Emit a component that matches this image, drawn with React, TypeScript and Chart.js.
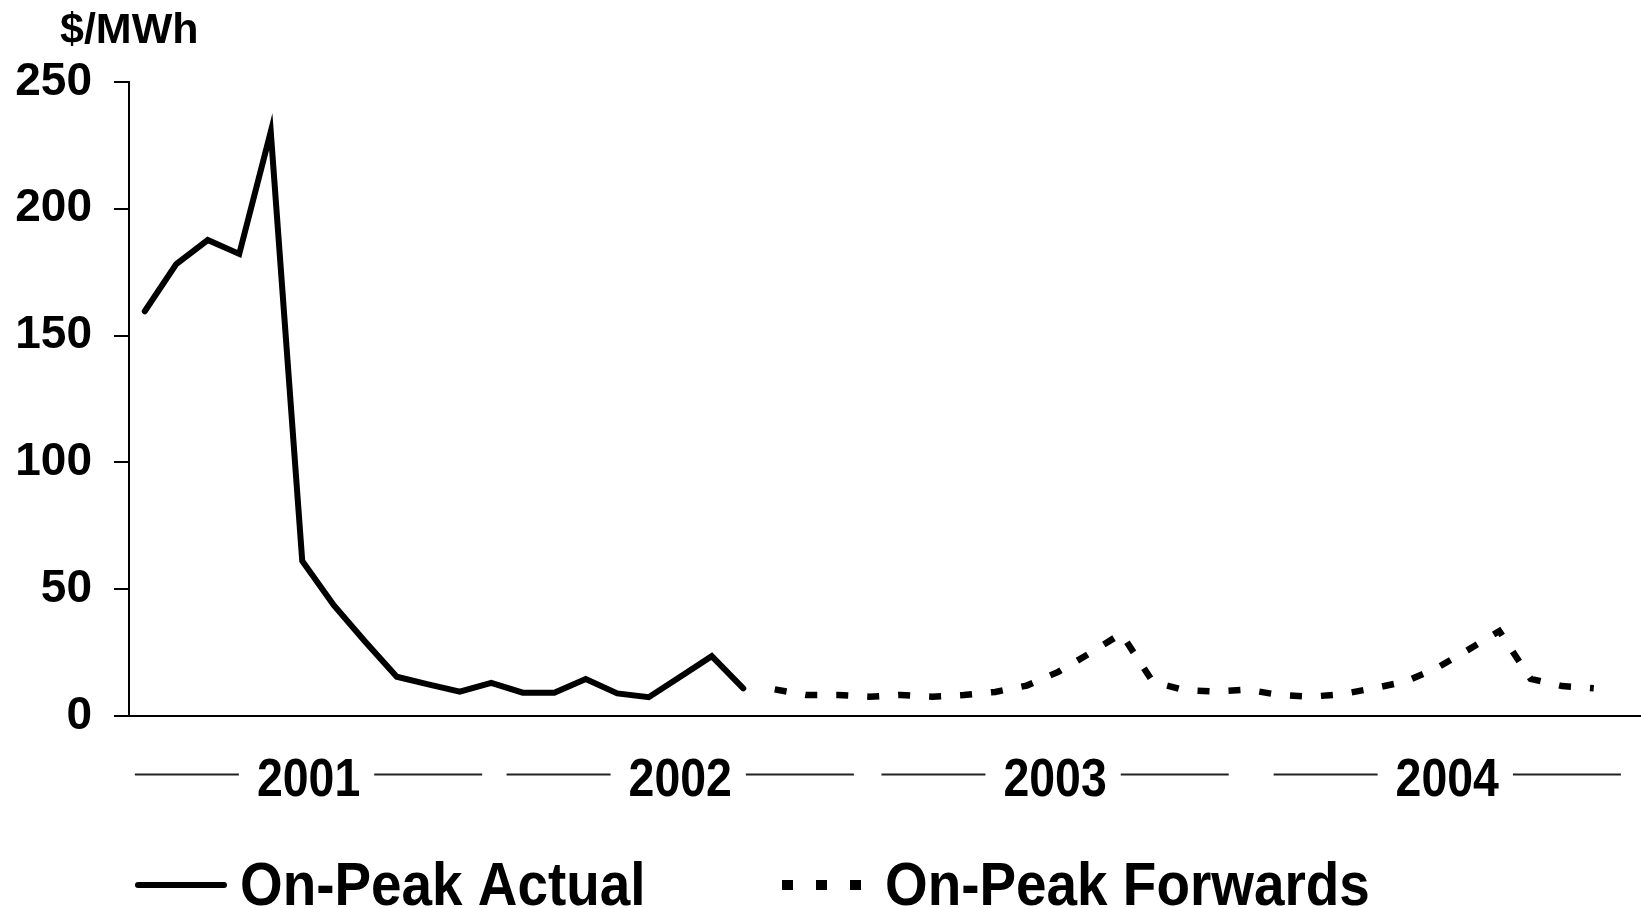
import React, { useEffect, useRef } from 'react';
import { Chart, registerables } from 'chart.js';

Chart.register(...registerables);

// ---- data ----
const years = ['2001', '2002', '2003', '2004'];
const monthNames = ['Jan', 'Feb', 'Mar', 'Apr', 'May', 'Jun', 'Jul', 'Aug', 'Sep', 'Oct', 'Nov', 'Dec'];
// centre of each year caption, in month-index units of the x axis
const yearCenters = [5.2, 17.0, 28.9, 41.35];
const unitLabel = '$/MWh';
const seriesNames = ['On-Peak Actual', 'On-Peak Forwards'];
const yTicks = [0, 50, 100, 150, 200, 250];

// Jan 2001 - Aug 2002
const actualValues = [
  159.6, 178.2, 187.7, 182.2, 230.4, 61.1, 43.7, 29.3, 15.5, 12.5, 9.6, 13.1,
  9.2, 9.2, 14.6, 8.9, 7.4, 15.5, 23.6, 10.9,
];
// Sep 2002 - Nov 2004
const forwardValues = [
  10.5, 8.3, 8.3, 7.6, 8.3, 7.6, 8.3, 9.5, 12.0, 17.4, 24.7, 32.5,
  13.5, 10.2, 9.6, 10.4, 8.3, 7.6, 8.6, 10.9, 13.5, 18.8, 26.0, 33.5,
  14.6, 11.8, 10.9,
];

const labels = years.flatMap((y) => monthNames.map((m) => `${m} ${y}`));

const FONT = '"Liberation Sans", Arial, Helvetica, sans-serif';

const decorPlugin = {
  id: 'decor',
  afterDraw(chart: any) {
    const ctx: CanvasRenderingContext2D = chart.ctx;
    const xs = chart.scales.x;
    const area = chart.chartArea;
    ctx.save();
    ctx.fillStyle = '#000';
    ctx.strokeStyle = '#000';

    // unit label
    ctx.font = `bold 43px ${FONT}`;
    ctx.textAlign = 'left';
    ctx.textBaseline = 'alphabetic';
    ctx.fillText(unitLabel, 60, 43);

    // year captions with rules
    const sx = 0.86;
    ctx.font = `bold 54px ${FONT}`;
    const baseY = area.bottom + 79.5;
    const lineY = area.bottom + 58.5;
    ctx.lineWidth = 2;
    ctx.strokeStyle = '#222';
    years.forEach((yr, i) => {
      const cx = xs.getPixelForValue(yearCenters[i]);
      const w = ctx.measureText(yr).width * sx;
      ctx.save();
      ctx.translate(cx, baseY);
      ctx.scale(sx, 1);
      ctx.textAlign = 'center';
      ctx.fillText(yr, 0, 0);
      ctx.restore();
      ctx.beginPath();
      ctx.moveTo(cx - w / 2 - 18 - 104, lineY);
      ctx.lineTo(cx - w / 2 - 18, lineY);
      ctx.moveTo(cx + w / 2 + 14, lineY);
      ctx.lineTo(cx + w / 2 + 14 + 108, lineY);
      ctx.stroke();
    });

    // legend
    const legY = 885;
    const legBase = 905;
    const lsx = 0.885;
    ctx.font = `bold 62px ${FONT}`;
    ctx.lineCap = 'round';
    ctx.lineWidth = 6;
    ctx.strokeStyle = '#000';
    ctx.beginPath();
    ctx.moveTo(138, legY);
    ctx.lineTo(224, legY);
    ctx.stroke();
    ctx.save();
    ctx.translate(240, legBase);
    ctx.scale(lsx, 1);
    ctx.textAlign = 'left';
    ctx.fillText(seriesNames[0], 0, 0);
    ctx.restore();

    [782, 816, 850].forEach((dx) => ctx.fillRect(dx, legY - 5, 11, 10));
    ctx.save();
    ctx.translate(885, legBase);
    ctx.scale(lsx, 1);
    ctx.textAlign = 'left';
    ctx.fillText(seriesNames[1], 0, 0);
    ctx.restore();

    ctx.restore();
  },
};

export default function App() {
  const canvasRef = useRef<HTMLCanvasElement | null>(null);

  useEffect(() => {
    const canvas = canvasRef.current;
    if (!canvas) return;
    const actualData = labels.map((_, i) => (i < actualValues.length ? actualValues[i] : null));
    const forwardData = labels.map((_, i) => {
      const j = i - actualValues.length;
      return j >= 0 && j < forwardValues.length ? forwardValues[j] : null;
    });

    const chart = new Chart(canvas, {
      type: 'line',
      data: {
        labels,
        datasets: [
          {
            label: seriesNames[0],
            data: actualData,
            borderColor: '#000',
            borderWidth: 6,
            pointRadius: 0,
            tension: 0,
            fill: false,
            spanGaps: false,
            borderJoinStyle: 'miter',
            borderCapStyle: 'round',
          },
          {
            label: seriesNames[1],
            data: forwardData,
            borderColor: '#000',
            borderWidth: 6.5,
            borderDash: [12, 19],
            pointRadius: 0,
            tension: 0,
            fill: false,
            spanGaps: false,
            borderJoinStyle: 'miter',
            borderCapStyle: 'butt',
          },
        ],
      },
      options: {
        animation: false,
        responsive: true,
        maintainAspectRatio: false,
        devicePixelRatio: 1,
        layout: { padding: { top: 82, left: 0, right: 0, bottom: 0 } },
        plugins: {
          legend: { display: false },
          title: { display: false },
          tooltip: { enabled: false },
        },
        scales: {
          x: {
            type: 'category',
            offset: true,
            ticks: { display: false },
            grid: { display: false },
            border: { display: true, color: '#000', width: 2 },
            afterFit: (scale: any) => {
              scale.height = 192;
            },
          },
          y: {
            min: 0,
            max: 250,
            afterBuildTicks: (scale: any) => {
              scale.ticks = yTicks.map((v) => ({ value: v }));
            },
            ticks: {
              color: '#000',
              padding: 22,
              font: { family: FONT, size: 46, weight: 'bold' },
            },
            grid: {
              display: true,
              drawOnChartArea: false,
              drawTicks: true,
              tickLength: 15,
              color: '#000',
              lineWidth: 2,
            },
            border: { display: true, color: '#000', width: 2 },
            afterFit: (scale: any) => {
              scale.width = 129;
            },
          },
        },
      },
      plugins: [decorPlugin],
    });
    return () => chart.destroy();
  }, []);

  return (
    <div style={{ position: 'fixed', left: 0, top: 0, width: 1641, height: 908, background: '#fff' }}>
      <canvas ref={canvasRef} />
    </div>
  );
}
